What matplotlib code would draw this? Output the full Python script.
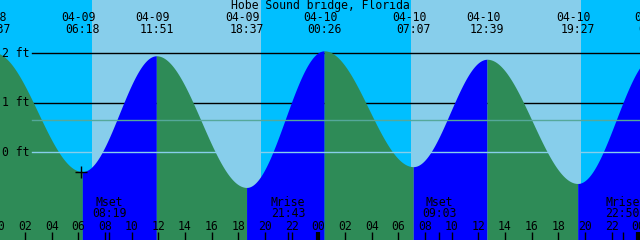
import numpy as np
import matplotlib
matplotlib.use("Agg")
import matplotlib.pyplot as plt
import matplotlib.transforms as mtransforms

# ---------------- data ----------------
title = "Hobe Sound bridge, Florida"

# tide extremes (date, time, height in ft)
tide_dates = ["04-08", "04-09", "04-09", "04-09", "04-10", "04-10", "04-10", "04-10", "04-11"]
tide_times = ["23:37", "06:18", "11:51", "18:37", "00:26", "07:07", "12:39", "19:27", "01:15"]
tide_heights = [2.02, -0.39, 1.95, -0.71, 2.05, -0.29, 1.88, -0.63, 1.95]

# sun events
sun_dates = ["04-09", "04-09", "04-10", "04-10"]
sun_times = ["07:00", "19:42", "06:59", "19:42"]
sun_kinds = ["rise", "set", "rise", "set"]

# moon events
moon_dates = ["04-09", "04-09", "04-10", "04-10"]
moon_times = ["08:19", "21:43", "09:03", "22:50"]
moon_names = ["Mset", "Mrise", "Mset", "Mrise"]

level_lines = [2, 1, 0]       # ft, labelled
level_labels = ["2 ft", "1 ft", "0 ft"]
msl_ft = 0.65

hour_ticks = list(range(0, 49, 2))
hour_labels = ["%02d" % (h % 24) for h in hour_ticks]

# ---------------- helpers ----------------
day_offset = {"04-08": -24.0, "04-09": 0.0, "04-10": 24.0, "04-11": 48.0}


def to_hours(d, t):
    hh, mm = t.split(":")
    return day_offset[d] + int(hh) + int(mm) / 60.0


tide_t = np.array([to_hours(d, t) for d, t in zip(tide_dates, tide_times)])
tide_h = np.array(tide_heights)
sun_t = [to_hours(d, t) for d, t in zip(sun_dates, sun_times)]
moon_t = [to_hours(d, t) for d, t in zip(moon_dates, moon_times)]

# ---------------- colours ----------------
DAY = "#87CEEB"
NIGHT = "#00BFFF"
RISE = "#0000FF"
FALL = "#2E8B57"
MSL_C = "#55A89A"
DATUM_C = "#87CEEB"

FONT = dict(family="DejaVu Sans Mono", fontsize=8.3, color="black")

W, H = 640, 240
fig = plt.figure(figsize=(6.4, 2.4), dpi=100)
ax = fig.add_axes([0, 0, 1, 1])
x0, x1 = 0.125, 48.125
y0, y1 = -1.772, 3.077
ax.set_xlim(x0, x1)
ax.set_ylim(y0, y1)
ax.axis("off")

# sky background
edges = [x0 - 5] + sun_t + [x1 + 5]
state = "night"
for a, b in zip(edges[:-1], edges[1:]):
    ax.axvspan(a, b, color=DAY if state == "day" else NIGHT, lw=0, zorder=0)
    state = "day" if state == "night" else "night"

# black level lines (under the water)
for lv in [2, 1]:
    ax.axhline(lv, xmin=32 / W, xmax=1, color="black", lw=1.0, zorder=1)

# water fill, rising blue / falling green
for i in range(len(tide_t) - 1):
    ta, tb = tide_t[i], tide_t[i + 1]
    ha, hb = tide_h[i], tide_h[i + 1]
    tt = np.linspace(ta, tb, 200)
    frac = (tt - ta) / (tb - ta)
    hh = ha + (hb - ha) * (1 - np.cos(np.pi * frac)) / 2
    ax.fill_between(tt, hh, y0 - 1, color=RISE if hb > ha else FALL, lw=0, zorder=2)

# datum and msl lines (over water)
ax.axhline(msl_ft, xmin=32 / W, xmax=1, color=MSL_C, lw=1.0, zorder=3)
ax.axhline(0, xmin=32 / W, xmax=1, color=DATUM_C, lw=1.0, zorder=3)

# level labels
for lv, lab in zip(level_lines, level_labels):
    ax.text(2 / W, lv, lab, transform=mtransforms.blended_transform_factory(ax.transAxes, ax.transData),
            ha="left", va="center", zorder=5, **FONT)

# now marker
ax.plot([tide_t[1] - 0.1], [tide_h[1]], marker="+", color="black", ms=8, mew=1.0, zorder=5)

bt = mtransforms.blended_transform_factory(ax.transData, ax.transAxes)


def yf(pix):
    return 1 - pix / H


# title
ax.text(0.5, yf(6), title, transform=ax.transAxes, ha="center", va="center", zorder=5, **FONT)

# tide event labels
date_tr = mtransforms.offset_copy(bt, fig=fig, x=-4, y=0, units="dots")
for t, d, tm in zip(tide_t, tide_dates, tide_times):
    ax.text(t, yf(17.5), d, transform=date_tr, ha="center", va="center", zorder=5, **FONT)
    ax.text(t, yf(29.5), tm, transform=bt, ha="center", va="center", zorder=5, **FONT)

# hour ticks and labels
for h, lab in zip(hour_ticks, hour_labels):
    ax.text(h, yf(226), lab, transform=bt, ha="center", va="center", zorder=5, **FONT)
    if h % 24 == 0:
        ax.plot([h, h], [0, yf(231.5)], transform=bt, color="black", lw=3.0,
                solid_capstyle="butt", zorder=4)
    else:
        ax.plot([h, h], [0, yf(231.5)], transform=bt, color="black", lw=1.0,
                solid_capstyle="butt", zorder=4)

# moon events
for t, name, tm in zip(moon_t, moon_names, moon_times):
    ax.plot([t, t], [0, yf(231.5)], transform=bt, color="black", lw=1.0,
            solid_capstyle="butt", zorder=4)
    ax.text(t, yf(202), name, transform=bt, ha="center", va="center", zorder=5, **FONT)
    ax.text(t, yf(213.5), tm, transform=bt, ha="center", va="center", zorder=5, **FONT)

fig.savefig("out.png", dpi=100)
